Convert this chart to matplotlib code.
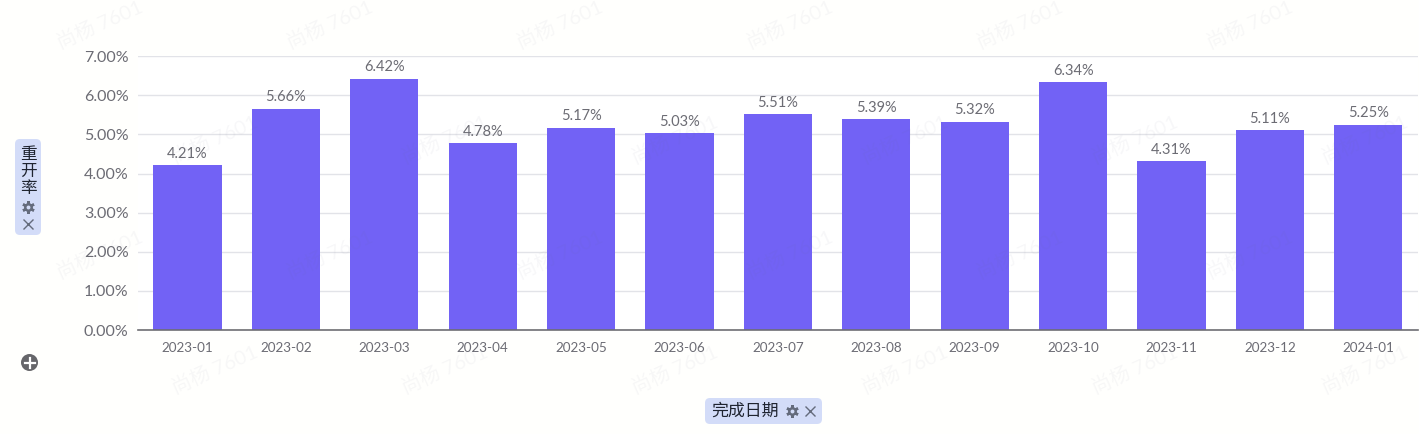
import matplotlib
matplotlib.use('Agg')
import matplotlib.pyplot as plt
from matplotlib.patches import FancyBboxPatch, Circle

plt.rcParams['font.family'] = ['Lato', 'Noto Sans CJK SC', 'DejaVu Sans']

months = ['2023-01', '2023-02', '2023-03', '2023-04', '2023-05', '2023-06', '2023-07',
          '2023-08', '2023-09', '2023-10', '2023-11', '2023-12', '2024-01']
rates = [4.21, 5.66, 6.42, 4.78, 5.17, 5.03, 5.51, 5.39, 5.32, 6.34, 4.31, 5.11, 5.25]
y_ticks = [0, 1, 2, 3, 4, 5, 6, 7]
x_title = '完成日期'
y_title = '重开率'
watermark = '尚杨 7601'

W, H = 1419, 434
fig = plt.figure(figsize=(W / 100, H / 100), dpi=100, facecolor='#fffffd')

# overlay in pixel coords, y going down, for the pills and watermark
bg = fig.add_axes([0, 0, 1, 1], zorder=3)
bg.set_xlim(0, W)
bg.set_ylim(H, 0)
bg.axis('off')
bg.patch.set_alpha(0)

# Plot bars.
ax = fig.add_axes([138.3 / W, 1 - 330 / H, 1279.2 / W, 273.8 / H], zorder=1)
ax.set_facecolor('white')
x = list(range(len(months)))
ax.bar(x, rates, width=0.695, color='#7262f5', zorder=2)
ax.set_xlim(-0.5, len(months) - 0.5)
ax.set_ylim(0, 7)
ax.set_yticks(y_ticks)
ax.set_yticklabels(['%.2f%%' % v for v in y_ticks], color='#6c6c74', fontsize=11.5)
ax.set_xticks(x)
ax.set_xticklabels(months, color='#6c6c74', fontsize=9.7)
ax.tick_params(axis='both', length=0)
ax.tick_params(axis='y', pad=7)
ax.tick_params(axis='x', pad=9)
ax.grid(axis='y', color='#e2e3e8', linewidth=1, zorder=0)
for s in ['top', 'right', 'left']:
    ax.spines[s].set_visible(False)
ax.spines['bottom'].set_color('#6e6e73')
ax.spines['bottom'].set_linewidth(1.2)
ax.spines['bottom'].set_zorder(5)
for i, v in zip(x, rates):
    ax.annotate('%.2f%%' % v, (i, v), xytext=(0, 3.2), textcoords='offset points',
                ha='center', va='bottom', color='#6c6c74', fontsize=10.5, zorder=4)

# Faint watermark.
for row, wy in enumerate([25, 140, 255, 370]):
    start = 100 if row % 2 == 0 else 215
    for k in range(6):
        bg.text(start + k * 230, wy, watermark, rotation=24, ha='center', va='center',
                fontsize=14.5, color='#6a6a80', alpha=0.05, zorder=1)


def gear(cx, cy):
    bg.plot([cx], [cy], marker='o', ms=6.4, color='#646b7c', mew=0, zorder=3)
    bg.plot([cx], [cy], marker=(6, 2, 0), ms=9, color='#646b7c', mew=1.8, zorder=3)
    bg.plot([cx], [cy], marker='o', ms=2.8, color='#d3dcf8', mew=0, zorder=4)


def cross(cx, cy):
    bg.plot([cx], [cy], marker='x', ms=6.5, color='#646b7c', mew=1, zorder=3)


# y axis pill
bg.add_patch(FancyBboxPatch((15, 139), 26, 96, boxstyle='round,pad=0,rounding_size=5',
                            fc='#d3dcf8', ec='none', zorder=2))
for ch, cy in zip(y_title, [153.5, 171, 188]):
    bg.text(28, cy, ch, ha='center', va='center', fontsize=12, color='#1f2430', zorder=3)
gear(28, 206.5)
cross(28, 223.5)

# x axis pill
bg.add_patch(FancyBboxPatch((705, 398), 117, 26, boxstyle='round,pad=0,rounding_size=5',
                            fc='#d3dcf8', ec='none', zorder=2))
bg.text(745, 411, x_title, ha='center', va='center', fontsize=12.2, color='#1f2430',
        fontweight='medium', zorder=3)
gear(791.5, 410.5)
cross(810, 410.5)

# add button
bg.add_patch(Circle((29.5, 362.5), 8.5, fc='#66666a', ec='none', zorder=2))
bg.plot([24.5, 34.5], [362.5, 362.5], color='white', lw=1.6, zorder=3)
bg.plot([29.5, 29.5], [357.5, 367.5], color='white', lw=1.6, zorder=3)

fig.savefig('out.png', dpi=100, facecolor=fig.get_facecolor())
